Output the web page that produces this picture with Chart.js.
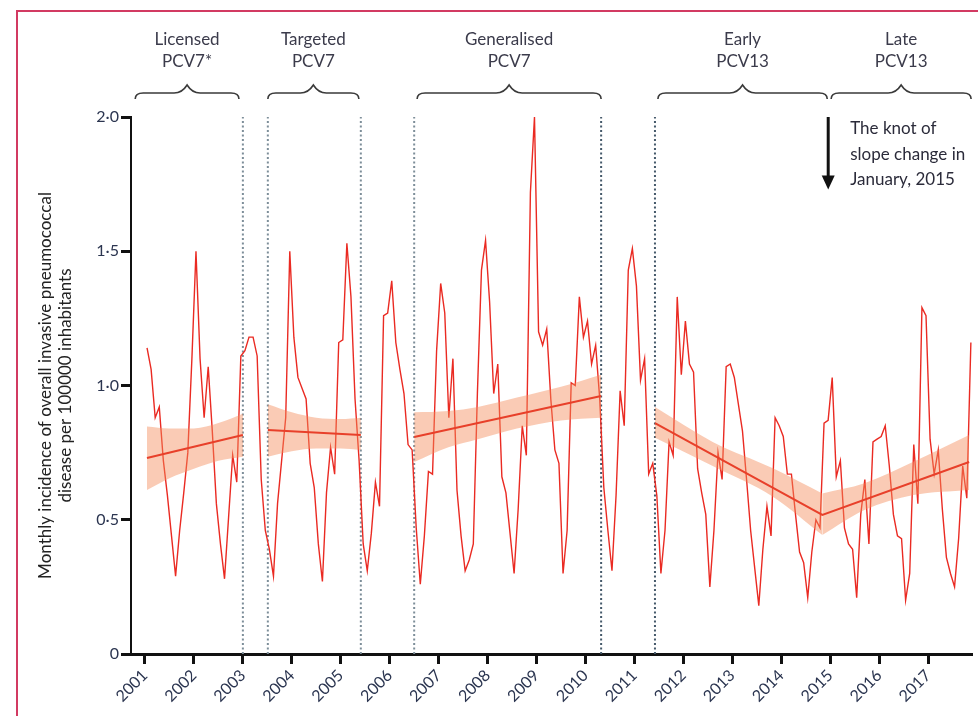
<!DOCTYPE html>
<html lang="en">
<head>
<meta charset="UTF-8">
<title>Monthly incidence of invasive pneumococcal disease</title>
<script src="https://cdn.jsdelivr.net/npm/chart.js"></script>
<style>
  html, body { margin: 0; padding: 0; background: #fff; overflow: hidden; }
  #wrap { position: relative; width: 978px; height: 716px; }
  #frame { position: absolute; left: 16px; top: 10px; width: 1000px; height: 800px; border: 2px solid #d23a62; box-sizing: border-box; }
  canvas { position: absolute; left: 0; top: 0; }
</style>
</head>
<body>
<div id="wrap">
  <div id="frame"></div>
  <canvas id="ipdChart" width="978" height="716"></canvas>
</div>
<script>
// monthly incidence per 100000, Jan 2001 onwards (one row per year)
const startYear = 2001;
const monthlyIncidence = [
  1.14, 1.06, 0.88, 0.92, 0.72, 0.59, 0.44, 0.29, 0.46, 0.60, 0.75, 1.10,
  1.50, 1.10, 0.88, 1.07, 0.83, 0.56, 0.41, 0.28, 0.51, 0.74, 0.64, 1.11,
  1.13, 1.18, 1.18, 1.11, 0.65, 0.46, 0.39, 0.29, 0.56, 0.72, 0.88, 1.50,
  1.18, 1.03, 0.99, 0.95, 0.71, 0.62, 0.41, 0.27, 0.60, 0.77, 0.67, 1.16,
  1.17, 1.53, 1.33, 0.95, 0.72, 0.41, 0.31, 0.45, 0.64, 0.55, 1.26, 1.27,
  1.39, 1.16, 1.06, 0.97, 0.78, 0.76, 0.47, 0.26, 0.44, 0.68, 0.67, 1.13,
  1.38, 1.27, 0.88, 1.10, 0.61, 0.44, 0.31, 0.35, 0.41, 0.97, 1.43, 1.54,
  1.31, 0.97, 1.08, 0.66, 0.60, 0.45, 0.30, 0.54, 0.85, 0.74, 1.72, 2.00,
  1.20, 1.15, 1.21, 0.95, 0.76, 0.71, 0.30, 0.46, 1.01, 1.00, 1.33, 1.18,
  1.24, 1.08, 1.15, 0.95, 0.62, 0.46, 0.31, 0.59, 0.98, 0.85, 1.43, 1.51,
  1.37, 1.02, 1.10, 0.67, 0.71, 0.59, 0.30, 0.46, 0.79, 0.74, 1.33, 1.04,
  1.24, 1.08, 1.05, 0.69, 0.60, 0.52, 0.25, 0.46, 0.75, 0.65, 1.07, 1.08,
  1.03, 0.93, 0.83, 0.65, 0.46, 0.32, 0.18, 0.39, 0.55, 0.44, 0.88, 0.85,
  0.81, 0.67, 0.67, 0.52, 0.38, 0.34, 0.21, 0.38, 0.50, 0.47, 0.86, 0.87,
  1.03, 0.66, 0.72, 0.47, 0.41, 0.39, 0.21, 0.52, 0.65, 0.41, 0.79, 0.80,
  0.81, 0.85, 0.70, 0.52, 0.44, 0.43, 0.20, 0.30, 0.78, 0.56, 1.29, 1.26,
  0.80, 0.67, 0.76, 0.54, 0.36, 0.30, 0.25, 0.43, 0.70, 0.58, 1.16
];

// segmented regression fits (decimal years)
const fitYears = [[2001.04, 2003.0], [2003.51, 2005.41], [2006.5, 2010.32], [2011.42, 2014.84, 2017.84]];
const fitValues = [[0.73, 0.816], [0.834, 0.816], [0.808, 0.961], [0.86, 0.518, 0.715]];

// 95% confidence bands
const ciYears = [
  [2001.04, 2001.5, 2002.0, 2002.5, 2003.0],
  [2003.51, 2004.0, 2004.5, 2005.0, 2005.41],
  [2006.5, 2007.2, 2007.8, 2008.6, 2009.5, 2010.32],
  [2011.42, 2012.6, 2013.83, 2014.84],
  [2014.84, 2015.7, 2016.7, 2017.84]
];
const ciLower = [
  [0.611, 0.655, 0.69, 0.72, 0.735],
  [0.735, 0.755, 0.765, 0.765, 0.76],
  [0.715, 0.77, 0.80, 0.84, 0.87, 0.88],
  [0.805, 0.70, 0.586, 0.443],
  [0.443, 0.536, 0.592, 0.611]
];
const ciUpper = [
  [0.847, 0.84, 0.84, 0.86, 0.895],
  [0.93, 0.90, 0.88, 0.875, 0.88],
  [0.90, 0.905, 0.92, 0.955, 0.995, 1.04],
  [0.92, 0.79, 0.692, 0.598],
  [0.598, 0.636, 0.716, 0.816]
];

// vaccination periods
const periodBreaks = [2003.0, 2003.51, 2005.41, 2006.5, 2010.32, 2011.42];
const periodNames = [['Licensed', 'PCV7*'], ['Targeted', 'PCV7'], ['Generalised', 'PCV7'], ['Early', 'PCV13'], ['Late', 'PCV13']];
const periodStart = [2000.80, 2003.51, 2006.56, 2011.48, 2015.02];
const periodEnd = [2002.92, 2005.37, 2010.32, 2014.94, 2017.88];

const knotYear = 2014.96;
const knotArrowTip = 1.73;
const knotNote = ['The knot of', 'slope change in', 'January, 2015'];

const yearTicks = [2001, 2002, 2003, 2004, 2005, 2006, 2007, 2008, 2009, 2010, 2011, 2012, 2013, 2014, 2015, 2016, 2017];
const yTickValues = [0, 0.5, 1, 1.5, 2];
const yTickLabels = ['0', '0·5', '1·0', '1·5', '2·0'];
const yTitle = ['Monthly incidence of overall invasive pneumococcal', 'disease per 100000 inhabitants'];

Chart.defaults.font.family = 'Lato, "Noto Sans", sans-serif';

function drawBrace(ctx, x0, x1, yEnd, yFlat, yPeak) {
  const mid = (x0 + x1) / 2;
  ctx.beginPath();
  ctx.moveTo(x0, yEnd);
  ctx.quadraticCurveTo(x0, yFlat, x0 + 8, yFlat);
  ctx.lineTo(mid - 13, yFlat);
  ctx.quadraticCurveTo(mid - 5, yFlat, mid, yPeak);
  ctx.quadraticCurveTo(mid + 5, yFlat, mid + 13, yFlat);
  ctx.lineTo(x1 - 8, yFlat);
  ctx.quadraticCurveTo(x1, yFlat, x1, yEnd);
  ctx.stroke();
}

const decorations = {
  id: 'decorations',
  afterDraw(chart) {
    const { ctx, scales: { x, y } } = chart;
    ctx.save();
    ctx.strokeStyle = '#3a3a3a';
    ctx.lineWidth = 1.6;
    ctx.fillStyle = '#3b3b4b';
    ctx.font = '17px Lato';
    ctx.textAlign = 'center';
    ctx.textBaseline = 'middle';
    periodNames.forEach((lines, i) => {
      const x0 = x.getPixelForValue(periodStart[i]);
      const x1 = x.getPixelForValue(periodEnd[i]);
      drawBrace(ctx, x0, x1, 99, 93, 85);
      ctx.fillText(lines[0], (x0 + x1) / 2, 40);
      ctx.fillText(lines[1], (x0 + x1) / 2, 62);
    });

    // knot arrow
    const ax = x.getPixelForValue(knotYear);
    const top = y.getPixelForValue(2.0);
    const tip = y.getPixelForValue(knotArrowTip);
    ctx.strokeStyle = '#111';
    ctx.fillStyle = '#111';
    ctx.lineWidth = 3;
    ctx.beginPath();
    ctx.moveTo(ax, top);
    ctx.lineTo(ax, tip - 10);
    ctx.stroke();
    ctx.beginPath();
    ctx.moveTo(ax - 6.5, tip - 14);
    ctx.lineTo(ax + 6.5, tip - 14);
    ctx.lineTo(ax, tip);
    ctx.closePath();
    ctx.fill();

    ctx.fillStyle = '#2b2b3a';
    ctx.textAlign = 'left';
    knotNote.forEach((t, i) => ctx.fillText(t, ax + 22, top + 12 + i * 25.5));
    ctx.restore();
  }
};

const datasets = [];
datasets.push({
  data: monthlyIncidence.map((v, i) => ({ x: startYear + (i + 0.5) / 12, y: v })),
  borderColor: '#ea2a22',
  borderWidth: 1.4,
  pointRadius: 0,
  fill: false,
  order: 3
});
ciYears.forEach((yrs, s) => {
  datasets.push({
    data: yrs.map((yr, k) => ({ x: yr, y: ciLower[s][k] })),
    borderWidth: 0,
    pointRadius: 0,
    fill: false,
    cubicInterpolationMode: 'monotone',
    order: 2
  });
  datasets.push({
    data: yrs.map((yr, k) => ({ x: yr, y: ciUpper[s][k] })),
    borderWidth: 0,
    pointRadius: 0,
    fill: '-1',
    backgroundColor: 'rgba(244,140,90,0.45)',
    cubicInterpolationMode: 'monotone',
    order: 2
  });
});
fitYears.forEach((yrs, s) => {
  datasets.push({
    data: yrs.map((yr, k) => ({ x: yr, y: fitValues[s][k] })),
    borderColor: '#e8402a',
    borderWidth: 2,
    pointRadius: 0,
    fill: false,
    order: 1
  });
});
periodBreaks.forEach((yr, i) => {
  datasets.push({
    data: [{ x: yr, y: 0 }, { x: yr, y: 2 }],
    borderColor: i >= 4 ? '#45596a' : '#7d8e99',
    borderWidth: 2,
    borderDash: [2, 2.5],
    pointRadius: 0,
    fill: false,
    order: 4
  });
});

const ctx = document.getElementById('ipdChart').getContext('2d');
new Chart(ctx, {
  type: 'line',
  data: { datasets: datasets },
  options: {
    responsive: false,
    animation: false,
    layout: { padding: { top: 117, right: 6, bottom: 0, left: 0 } },
    plugins: { legend: { display: false }, tooltip: { enabled: false } },
    scales: {
      x: {
        type: 'linear',
        min: 2000.714,
        max: 2017.898,
        afterBuildTicks: s => { s.ticks = yearTicks.map(v => ({ value: v })); },
        afterFit: s => { s.height = 62; },
        ticks: {
          autoSkip: false, minRotation: 45, maxRotation: 45, padding: 2,
          color: '#2b3550', font: { size: 16 },
          callback: v => String(v)
        },
        grid: { drawOnChartArea: false, drawTicks: true, tickLength: 10, tickWidth: 3, tickColor: '#111' },
        border: { display: true, color: '#111', width: 3 }
      },
      y: {
        min: 0,
        max: 2,
        afterBuildTicks: s => { s.ticks = yTickValues.map(v => ({ value: v })); },
        afterFit: s => { s.width = 131; },
        ticks: {
          padding: 2, color: '#2b3550', font: { size: 16 },
          callback: (v, i) => yTickLabels[i]
        },
        grid: { drawOnChartArea: false, drawTicks: true, tickLength: 10, tickWidth: 3, tickColor: '#111' },
        border: { display: true, color: '#111', width: 2 },
        title: {
          display: true,
          text: yTitle,
          color: '#222',
          font: { size: 17 },
          padding: { top: 35, bottom: 0 }
        }
      }
    }
  },
  plugins: [decorations]
});
</script>
</body>
</html>
